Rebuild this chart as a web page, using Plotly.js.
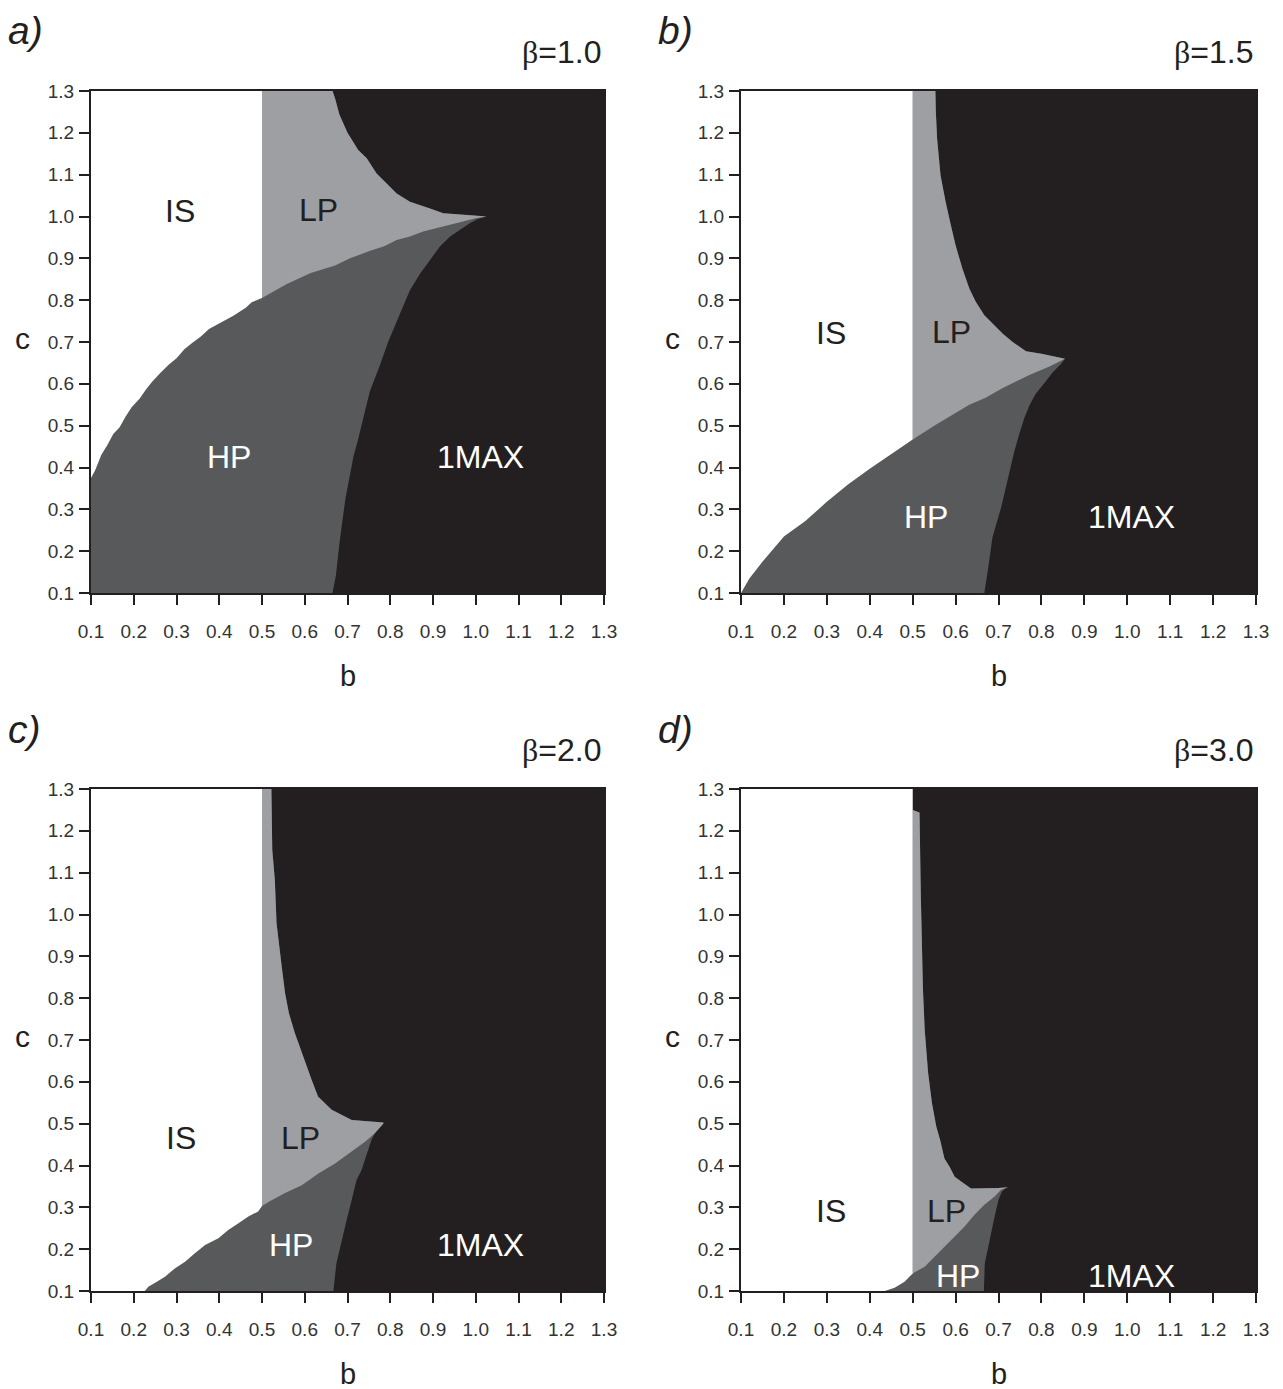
<!DOCTYPE html>
<html>
<head>
<meta charset="utf-8">
<script src="https://cdn.plot.ly/plotly-3.0.1.min.js"></script>
<style>html,body{margin:0;padding:0;background:#fff;}#chart{width:1283px;height:1389px;}</style>
</head>
<body>
<div id="chart"></div>
<script>
// ---------- tick labels ----------
const tickVals = [0.1,0.2,0.3,0.4,0.5,0.6,0.7,0.8,0.9,1.0,1.1,1.2,1.3];
const tickText = ['0.1','0.2','0.3','0.4','0.5','0.6','0.7','0.8','0.9','1.0','1.1','1.2','1.3'];
const panelLetters = ['a)','b)','c)','d)'];
const betaValues = ['1.0','1.5','2.0','3.0'];
const regionNames = ['IS','LP','HP','1MAX'];

// ---------- panel a (beta = 1.0): phase boundaries (b, c) ----------
const a_isB  = [0.100,0.110,0.124,0.138,0.152,0.167,0.181,0.195,0.214,0.229,0.243,0.262,0.281,0.300,0.319,0.338,0.357,0.376,0.405,0.433,0.462,0.476,0.500];
const a_isC  = [0.375,0.394,0.430,0.453,0.480,0.496,0.522,0.544,0.565,0.587,0.605,0.626,0.645,0.661,0.683,0.699,0.713,0.731,0.747,0.763,0.782,0.795,0.805];
const a_lpB  = [0.500,0.557,0.614,0.671,0.706,0.753,0.786,0.815,0.846,0.877,0.908,0.947,0.979,1.000,1.025];
const a_lpC  = [0.805,0.838,0.865,0.883,0.900,0.918,0.929,0.944,0.952,0.964,0.972,0.982,0.989,0.996,1.000];
const a_lowB = [0.665,0.673,0.681,0.695,0.714,0.724,0.738,0.752,0.776,0.795,0.823,0.846,0.870,0.893,0.916,0.940,0.963,0.986,1.005];
const a_lowC = [0.100,0.143,0.218,0.325,0.426,0.464,0.522,0.581,0.645,0.700,0.768,0.824,0.864,0.896,0.928,0.952,0.968,0.984,0.994];
const a_upB  = [1.025,0.994,0.924,0.893,0.846,0.815,0.792,0.768,0.745,0.725,0.700,0.681,0.671,0.665];
const a_upC  = [1.000,1.003,1.008,1.019,1.035,1.055,1.079,1.103,1.139,1.159,1.200,1.244,1.282,1.300];

// ---------- panel b (beta = 1.5) ----------
const b_isB  = [0.100,0.120,0.150,0.200,0.250,0.300,0.350,0.400,0.450,0.500];
const b_isC  = [0.100,0.135,0.175,0.235,0.272,0.318,0.360,0.397,0.432,0.467];
const b_lpB  = [0.500,0.554,0.600,0.632,0.670,0.710,0.772,0.820,0.855];
const b_lpC  = [0.467,0.502,0.530,0.550,0.567,0.590,0.621,0.642,0.660];
const b_lowB = [0.667,0.676,0.686,0.706,0.725,0.737,0.748,0.760,0.772,0.786,0.807,0.826,0.846];
const b_lowC = [0.100,0.160,0.233,0.304,0.391,0.439,0.479,0.518,0.548,0.575,0.602,0.627,0.648];
const b_upB  = [0.855,0.800,0.764,0.733,0.710,0.690,0.667,0.647,0.632,0.616,0.600,0.589,0.577,0.565,0.557,0.554,0.553];
const b_upC  = [0.660,0.672,0.678,0.700,0.720,0.740,0.764,0.796,0.828,0.875,0.931,0.979,1.034,1.098,1.185,1.250,1.300];

// ---------- panel c (beta = 2.0) ----------
const c_isB  = [0.226,0.234,0.254,0.273,0.296,0.320,0.343,0.367,0.398,0.421,0.445,0.468,0.491,0.500];
const c_isC  = [0.100,0.110,0.122,0.134,0.154,0.170,0.190,0.210,0.226,0.246,0.262,0.278,0.290,0.303];
const c_lpB  = [0.500,0.517,0.554,0.593,0.632,0.671,0.710,0.741,0.764,0.784];
const c_lpC  = [0.303,0.314,0.334,0.353,0.381,0.405,0.433,0.457,0.477,0.500];
const c_lowB = [0.667,0.674,0.686,0.698,0.710,0.721,0.733,0.745,0.756,0.768,0.776];
const c_lowC = [0.100,0.166,0.222,0.270,0.318,0.365,0.389,0.429,0.461,0.485,0.493];
const c_upB  = [0.784,0.756,0.710,0.663,0.631,0.616,0.596,0.577,0.563,0.554,0.546,0.534,0.530,0.524,0.522];
const c_upC  = [0.503,0.505,0.509,0.533,0.565,0.605,0.660,0.716,0.764,0.812,0.876,0.979,1.083,1.155,1.300];

// ---------- panel d (beta = 3.0) ----------
const d_isB  = [0.435,0.458,0.481,0.500];
const d_isC  = [0.100,0.108,0.122,0.142];
const d_lpB  = [0.500,0.528,0.551,0.574,0.598,0.621,0.644,0.667,0.691,0.706,0.722];
const d_lpC  = [0.142,0.158,0.182,0.206,0.230,0.254,0.282,0.306,0.326,0.342,0.348];
const d_lowB = [0.666,0.668,0.679,0.691,0.700,0.708,0.716];
const d_lowC = [0.100,0.166,0.222,0.278,0.318,0.338,0.345];
const d_upB  = [0.722,0.700,0.636,0.613,0.598,0.586,0.574,0.564,0.555,0.545,0.536,0.528,0.524,0.519,0.516,0.505,0.500];
const d_upC  = [0.348,0.346,0.345,0.361,0.373,0.397,0.417,0.461,0.493,0.549,0.621,0.725,0.821,1.044,1.244,1.248,1.250];

// region label positions (b, c) per panel: IS, LP, HP, 1MAX
const labelB = [[0.308,0.631,0.423,1.012],[0.310,0.591,0.532,1.011],[0.310,0.589,0.568,1.012],[0.310,0.579,0.605,1.011]];
const labelC = [[1.013,1.015,0.424,0.424],[0.721,0.723,0.281,0.281],[0.466,0.466,0.210,0.210],[0.291,0.291,0.136,0.136]];

// ---------- styling ----------
const COL_IS = '#ffffff', COL_LP = '#9d9fa2', COL_HP = '#58595b', COL_MAX = '#231f20';
const FONT = 'Liberation Sans, Arial, sans-serif';
const W = 1283, H = 1389;
const panelsPx = [
  {x0:91, x1:604, y0:91, y1:593},
  {x0:741, x1:1256, y0:91, y1:593},
  {x0:91, x1:604, y0:789, y1:1291},
  {x0:741, x1:1256, y0:789, y1:1291}
];
const panelData = [
  [a_isB,a_isC,a_lpB,a_lpC,a_lowB,a_lowC,a_upB,a_upC],
  [b_isB,b_isC,b_lpB,b_lpC,b_lowB,b_lowC,b_upB,b_upC],
  [c_isB,c_isC,c_lpB,c_lpC,c_lowB,c_lowC,c_upB,c_upC],
  [d_isB,d_isC,d_lpB,d_lpC,d_lowB,d_lowC,d_upB,d_upC]
];

const traces = [];
const layout = {
  width: W, height: H,
  margin: {l:0, r:0, t:0, b:0},
  paper_bgcolor: '#ffffff',
  plot_bgcolor: COL_MAX,
  showlegend: false,
  font: {family: FONT, color: '#231f20'},
  annotations: []
};

panelData.forEach((pd, i) => {
  const [isB,isC,lpB,lpC,lowB,lowC,upB,upC] = pd;
  const sfx = i === 0 ? '' : String(i+1);
  const xa = 'x' + sfx, ya = 'y' + sfx;
  const base = {type:'scatter', mode:'lines', fill:'toself', line:{width:0}, hoverinfo:'skip', xaxis:xa, yaxis:ya};

  // HP: everything left of the 1MAX boundary
  const hpX = [0.1].concat(lowB, upB, [upB[upB.length-1], 0.1]);
  const hpY = [0.1].concat(lowC, upC, [1.3, 1.3]);
  traces.push(Object.assign({}, base, {x:hpX, y:hpY, fillcolor:COL_HP}));

  // LP: above the HP/LP line, right of b = 0.5, left of 1MAX
  const lpX = [0.5].concat(lpB, upB, [upB[upB.length-1], 0.5]);
  const lpY = [1.3].concat(lpC, upC, [1.3, 1.3]);
  traces.push(Object.assign({}, base, {x:lpX, y:lpY, fillcolor:COL_LP}));

  // IS: above the IS/HP line, left of b = 0.5
  const startC = isB[0] > 0.1 ? 0.1 : isC[0];
  const isX = [0.1, 0.1].concat(isB, [0.5]);
  const isY = [1.3, startC].concat(isC, [1.3]);
  traces.push(Object.assign({}, base, {x:isX, y:isY, fillcolor:COL_IS}));

  const p = panelsPx[i];
  const axCommon = {
    range:[0.1,1.3], tickmode:'array', tickvals:tickVals, ticktext:tickText,
    ticks:'outside', ticklen:10, tickwidth:2, tickcolor:'#231f20',
    showline:true, linewidth:2, linecolor:'#231f20', mirror:true,
    showgrid:false, zeroline:false, fixedrange:true,
    tickfont:{family:FONT, size:19, color:'#333333'}
  };
  layout['xaxis'+sfx] = Object.assign({}, axCommon, {
    domain:[p.x0/W, p.x1/W], anchor:ya, ticklabelstandoff:10
  });
  layout['yaxis'+sfx] = Object.assign({}, axCommon, {
    domain:[1-p.y1/H, 1-p.y0/H], anchor:xa, ticklabelstandoff:1
  });

  // region labels
  regionNames.forEach((nm, k) => {
    layout.annotations.push({
      xref:xa, yref:ya, x:labelB[i][k], y:labelC[i][k], text:nm, showarrow:false,
      font:{family:FONT, size:32, color:(k < 2 ? '#231f20' : '#ffffff')}
    });
  });

  // panel letter
  layout.annotations.push({
    xref:'paper', yref:'paper', x:(p.x0-85)/W, y:1-(p.y0-60)/H, xanchor:'left', yanchor:'middle',
    text:'<i>'+panelLetters[i]+'</i>', showarrow:false, font:{family:FONT, size:39, color:'#231f20'}
  });
  // beta label
  layout.annotations.push({
    xref:'paper', yref:'paper', x:(p.x1-1)/W, y:1-(p.y0-39)/H, xanchor:'right', yanchor:'middle',
    text:'<span style="font-family:Liberation Serif">β</span>='+betaValues[i], showarrow:false,
    font:{family:FONT, size:32, color:'#231f20'}
  });
  // axis titles
  layout.annotations.push({
    xref:'paper', yref:'paper', x:(p.x0-69)/W, y:1-((p.y0+p.y1)/2-4)/H, xanchor:'center', yanchor:'middle',
    text:'c', showarrow:false, font:{family:FONT, size:30, color:'#231f20'}
  });
  layout.annotations.push({
    xref:'paper', yref:'paper', x:((p.x0+p.x1)/2)/W, y:1-(p.y1+97)/H, xanchor:'center', yanchor:'bottom',
    text:'b', showarrow:false, yshift:-4, font:{family:FONT, size:29, color:'#231f20'}
  });
});

Plotly.newPlot('chart', traces, layout, {staticPlot:true, displayModeBar:false});
</script>
</body>
</html>
